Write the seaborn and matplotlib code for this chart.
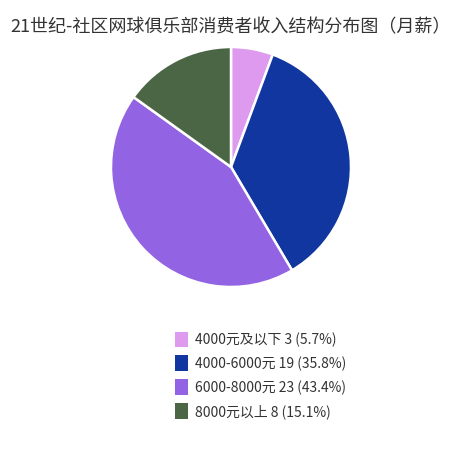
import matplotlib
matplotlib.use("Agg")
import matplotlib.pyplot as plt
import seaborn as sns

# Data
categories = ["4000元及以下", "4000-6000元", "6000-8000元", "8000元以上"]
counts = [3, 19, 23, 8]
colors = ["#DE9AEE", "#1236A0", "#9263E3", "#4A6645"]

sns.set_theme(style="white")
plt.rcParams["font.family"] = ["Noto Sans CJK SC", "DejaVu Sans"]

total = sum(counts)
labels = [f"{c} {n} ({n / total * 100:.1f}%)" for c, n in zip(categories, counts)]

fig = plt.figure(figsize=(4.62, 4.5), dpi=100)
fig.patch.set_facecolor("white")

# pie area: centre ~ (231,167) px, radius ~120 px
ax = fig.add_axes([0.5 - 120 / 462, 1 - 287 / 450, 240 / 462, 240 / 450])
wedges, _ = ax.pie(counts, colors=sns.color_palette(colors), startangle=90,
                   counterclock=False,
                   wedgeprops=dict(edgecolor="white", linewidth=1.8))
ax.set_xlim(-1, 1)
ax.set_ylim(-1, 1)
ax.set_aspect("equal")

fig.text(0.5, 1 - 27 / 450, "21世纪-社区网球俱乐部消费者收入结构分布图（月薪）",
         ha="center", va="center", fontsize=13, color="#333333")

leg = fig.legend(wedges, labels, loc="upper left",
                 bbox_to_anchor=(162 / 462, 1 - 319 / 450),
                 frameon=False, fontsize=10, handlelength=0.95, handleheight=1.35,
                 handletextpad=0.55, labelspacing=0.6)
for t in leg.get_texts():
    t.set_color("#333333")
for h in leg.legend_handles:
    h.set_edgecolor("none")

fig.savefig("out.png", dpi=100, facecolor="white")
